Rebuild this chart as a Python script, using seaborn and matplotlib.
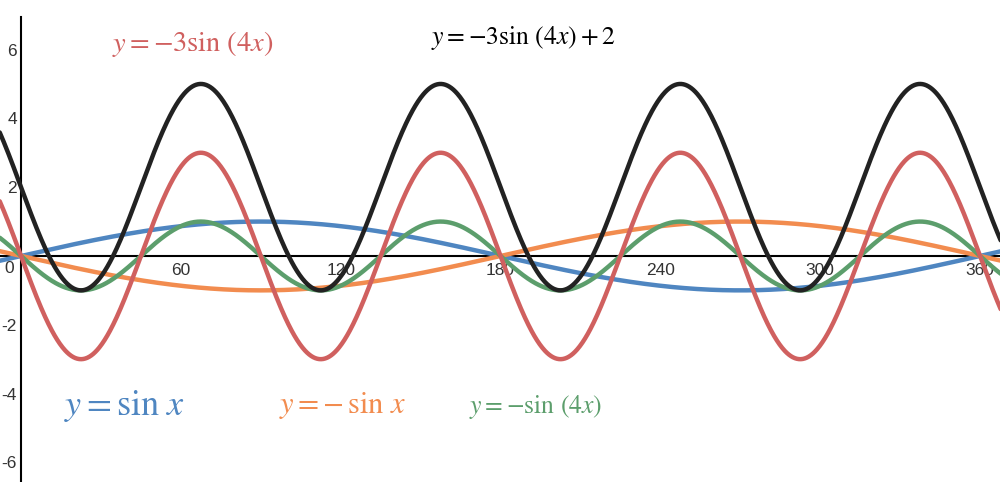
import numpy as np
import pandas as pd
import matplotlib
matplotlib.use("Agg")
import matplotlib.pyplot as plt
import seaborn as sns

# Curve definitions (amplitude, frequency, vertical shift)
names = ["sin x", "-sin x", "-sin(4x)", "-3sin(4x)", "-3sin(4x)+2"]
amplitudes = [1, -1, -1, -3, -3]
frequencies = [1, 1, 4, 4, 4]
shifts = [0, 0, 0, 0, 2]
colors = ["#4f86c1", "#f28c4f", "#5c9e6c", "#d0605f", "#222222"]
labels = [r"$y=\sin\,x$", r"$y=-\,\sin\,x$", r"$y=-\sin\,\left(4x\right)$",
          r"$y=-3\sin\,\left(4x\right)$", r"$y=-3\sin\,\left(4x\right)+2$"]
label_x = [16, 97, 168, 34, 154]
label_y = [-4.35, -4.35, -4.4, 6.15, 6.35]
label_size = [26, 22, 18.5, 20.5, 18.5]

xticks = [60, 120, 180, 240, 300, 360]
yticks = [-6, -4, -2, 2, 4, 6]

xs = np.linspace(-8, 368, 1500)
rows = []
for n, a, f, s in zip(names, amplitudes, frequencies, shifts):
    for x in xs:
        rows.append((n, x, a * np.sin(np.deg2rad(f * x)) + s))
df = pd.DataFrame(rows, columns=["curve", "x", "y"])

sns.set_style("white")
plt.rcParams["mathtext.fontset"] = "stix"
plt.rcParams["font.family"] = ["Liberation Sans", "DejaVu Sans"]

fig = plt.figure(figsize=(10, 4.82), dpi=100)
ax = fig.add_axes([0, 0, 1, 1])
sns.lineplot(data=df, x="x", y="y", hue="curve", hue_order=names,
             palette=colors, linewidth=3.2, legend=False, ax=ax, sort=False)

ax.set_xlim(-7.9, 367.5)
ax.set_ylim(-6.57, 7.44)

for sp in ["top", "right"]:
    ax.spines[sp].set_visible(False)
ax.spines["left"].set_position(("data", 0))
ax.spines["bottom"].set_position(("data", 0))
ax.spines["left"].set_bounds(-6.57, 6.95)
for sp in ["left", "bottom"]:
    ax.spines[sp].set_color("black")
    ax.spines[sp].set_linewidth(1.5)
    ax.spines[sp].set_zorder(0.5)

ax.set_xticks(xticks)
ax.set_xticklabels([str(t) for t in xticks])
ax.set_yticks(yticks)
ax.set_yticklabels([str(t) for t in yticks])
ax.tick_params(axis="both", length=0, labelsize=12.5, colors="#333333")
ax.tick_params(axis="x", pad=5)
ax.tick_params(axis="y", pad=3)
ax.text(-2.5, -0.15, "0", ha="right", va="top", fontsize=12.5, color="#333333")
ax.set_xlabel("")
ax.set_ylabel("")

for lab, lx, ly, ls, c in zip(labels, label_x, label_y, label_size, colors):
    c2 = "black" if c == "#222222" else c
    ax.text(lx, ly, lab, color=c2, fontsize=ls, ha="left", va="center")

fig.savefig("out.png", dpi=100)
